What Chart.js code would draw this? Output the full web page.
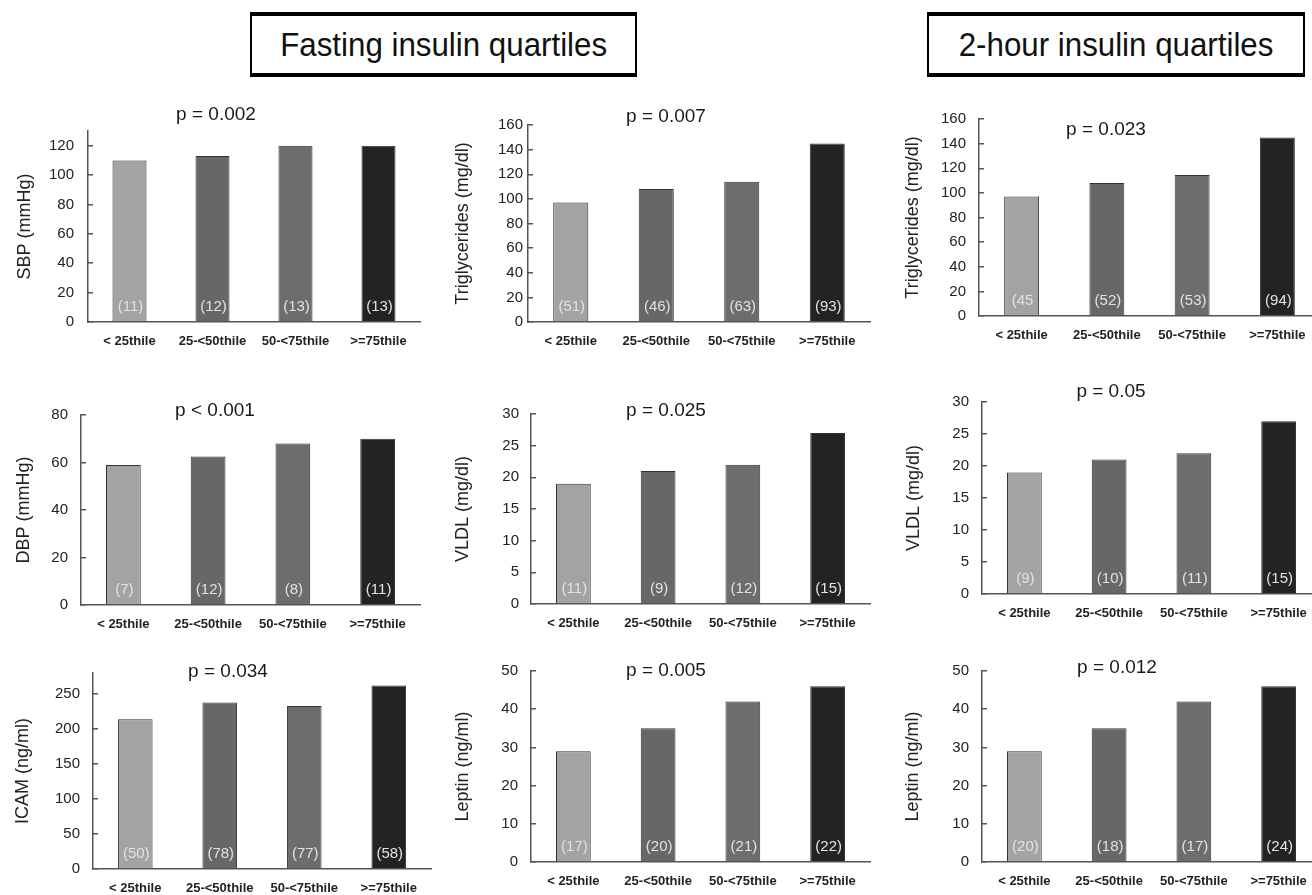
<!DOCTYPE html>
<html>
<head>
<meta charset="utf-8">
<script src="https://cdn.jsdelivr.net/npm/chart.js@4/dist/chart.umd.min.js"></script>
<style>
    html, body { margin: 0; padding: 0; background: #fff; }
    body { width: 1312px; height: 895px; position: relative; overflow: hidden; font-family: "Liberation Sans", Arial, sans-serif; }
    .header {
        position: absolute; top: 12px; height: 57px; box-sizing: content-box;
        border-top: 4px solid #000; border-bottom: 4px solid #000;
        border-left: 2px solid #000; border-right: 2px solid #000;
        text-align: center; line-height: 57px; font-size: 34px; color: #111;
    }
    .header span { display: inline-block; transform: scaleX(0.92); }
    .panel { position: absolute; }
</style>
</head>
<body>
<div class="header" style="left:250px; width:383px;"><span>Fasting insulin quartiles</span></div>
<div class="header" style="left:927px; width:374px;"><span>2-hour insulin quartiles</span></div>

<script>
// ---- Data ----
const categories = ['< 25thile', '25-<50thile', '50-<75thile', '>=75thile'];

const sbpValues = [110, 113, 120, 120];
const sbpCounts = ['(11)', '(12)', '(13)', '(13)'];

const tgFastValues = [97, 108, 114, 145];
const tgFastCounts = ['(51)', '(46)', '(63)', '(93)'];

const tg2hValues = [97, 108, 114.5, 145];
const tg2hCounts = ['(45', '(52)', '(53)', '(94)'];

const dbpValues = [59, 62.5, 68, 70];
const dbpCounts = ['(7)', '(12)', '(8)', '(11)'];

const vldlFastValues = [19, 21, 22, 27];
const vldlFastCounts = ['(11)', '(9)', '(12)', '(15)'];

const vldl2hValues = [19, 21, 22, 27];
const vldl2hCounts = ['(9)', '(10)', '(11)', '(15)'];

const icamValues = [214, 238, 233, 262];
const icamCounts = ['(50)', '(78)', '(77)', '(58)'];

const leptinFastValues = [29, 35, 42, 46];
const leptinFastCounts = ['(17)', '(20)', '(21)', '(22)'];

const leptin2hValues = [29, 35, 42, 46];
const leptin2hCounts = ['(20)', '(18)', '(17)', '(24)'];

const barColors = ['#a3a3a3', '#676767', '#6d6d6d', '#232323'];

// ---- Panels (layout in page pixels) ----
const panels = [
    { label: 'SBP (mmHg)', values: sbpValues, counts: sbpCounts, p: 'p = 0.002', yMax: 130, step: 20,
      axisX: 88, right: 420, top: 131, base: 321.5, pX: 216, pY: 115, titleGap: 63, tickGap: 14 },
    { label: 'Triglycerides (mg/dl)', values: tgFastValues, counts: tgFastCounts, p: 'p = 0.007', yMax: 160, step: 20,
      axisX: 528, right: 870, top: 125, base: 321.6, pX: 666, pY: 117, titleGap: 65, tickGap: 5 },
    { label: 'Triglycerides (mg/dl)', values: tg2hValues, counts: tg2hCounts, p: 'p = 0.023', yMax: 160, step: 20,
      axisX: 979, right: 1320, top: 119.3, base: 316.3, pX: 1106, pY: 130, titleGap: 66, tickGap: 13 },
    { label: 'DBP (mmHg)', values: dbpValues, counts: dbpCounts, p: 'p < 0.001', yMax: 80, step: 20,
      axisX: 81, right: 420, top: 415, base: 604.7, pX: 215, pY: 411, titleGap: 57, tickGap: 13 },
    { label: 'VLDL (mg/dl)', values: vldlFastValues, counts: vldlFastCounts, p: 'p = 0.025', yMax: 30, step: 5,
      axisX: 531, right: 870, top: 414.3, base: 604.4, pX: 666, pY: 411, titleGap: 68, tickGap: 12 },
    { label: 'VLDL (mg/dl)', values: vldl2hValues, counts: vldl2hCounts, p: 'p = 0.05', yMax: 30, step: 5,
      axisX: 982, right: 1321, top: 401.7, base: 593.3, pX: 1111, pY: 391, titleGap: 68, tickGap: 13 },
    { label: 'ICAM (ng/ml)', values: icamValues, counts: icamCounts, p: 'p = 0.034', yMax: 280, step: 50,
      axisX: 93, right: 431, top: 672.7, base: 868.3, pX: 228, pY: 671, titleGap: 70, tickGap: 13 },
    { label: 'Leptin (ng/ml)', values: leptinFastValues, counts: leptinFastCounts, p: 'p = 0.005', yMax: 50, step: 10,
      axisX: 531, right: 870, top: 671, base: 861.7, pX: 666, pY: 671, titleGap: 68, tickGap: 13 },
    { label: 'Leptin (ng/ml)', values: leptin2hValues, counts: leptin2hCounts, p: 'p = 0.012', yMax: 50, step: 10,
      axisX: 982, right: 1321, top: 671, base: 861.7, pX: 1117, pY: 668, titleGap: 69, tickGap: 13 }
];

const Y_W = 95;      // reserved width for y axis (labels + title)
const X_H = 35;      // reserved height for x axis labels
const PAD_T = 50;    // room above the plot for the p-value
const PAD_R = 4;

// count labels inside bars + p-value text
const panelText = {
    id: 'panelText',
    afterDatasetsDraw(chart, args, opts) {
        const ctx = chart.ctx;
        const y0 = chart.scales.y.getPixelForValue(0);
        const meta = chart.getDatasetMeta(0);
        ctx.save();
        ctx.font = '15px "Liberation Sans", Arial, sans-serif';
        ctx.fillStyle = '#e2e2e2';
        ctx.textAlign = 'center';
        ctx.textBaseline = 'middle';
        meta.data.forEach((bar, i) => {
            ctx.fillText(opts.counts[i], bar.x + 1, y0 - 15);
        });
        ctx.font = '19px "Liberation Sans", Arial, sans-serif';
        ctx.fillStyle = '#1a1a1a';
        ctx.fillText(opts.p, opts.pX, opts.pY);
        ctx.restore();
    }
};

function makePanel(cfg) {
    const left = cfg.axisX - Y_W;
    const top = cfg.top - PAD_T;
    const width = Y_W + (cfg.right - cfg.axisX) + PAD_R;
    const height = PAD_T + (cfg.base - cfg.top) + X_H;

    const div = document.createElement('div');
    div.className = 'panel';
    div.style.left = left + 'px';
    div.style.top = top + 'px';
    const canvas = document.createElement('canvas');
    canvas.width = Math.round(width);
    canvas.height = Math.round(height);
    div.appendChild(canvas);
    document.body.appendChild(div);

    new Chart(canvas, {
        type: 'bar',
        data: {
            labels: categories,
            datasets: [{
                data: cfg.values,
                backgroundColor: barColors,
                borderColor: '#333',
                borderWidth: 1,
                barPercentage: 0.41,
                categoryPercentage: 1
            }]
        },
        options: {
            responsive: false,
            animation: false,
            layout: { padding: { left: 0, right: PAD_R, top: PAD_T, bottom: 0 } },
            plugins: {
                legend: { display: false },
                tooltip: { enabled: false },
                panelText: { counts: cfg.counts, p: cfg.p, pX: cfg.pX - left, pY: cfg.pY - top }
            },
            scales: {
                x: {
                    grid: { display: false, drawTicks: false },
                    border: { display: true, color: '#555', width: 1.5 },
                    ticks: {
                        color: '#222',
                        padding: 12,
                        maxRotation: 0,
                        autoSkip: false,
                        font: { family: '"Liberation Sans", Arial, sans-serif', size: 13, weight: 'bold' }
                    },
                    afterFit: (scale) => { scale.height = X_H; }
                },
                y: {
                    min: 0,
                    max: cfg.yMax,
                    grid: { drawOnChartArea: false, tickLength: -5, color: '#555', lineWidth: 1.5 },
                    border: { display: true, color: '#555', width: 1.5 },
                    ticks: {
                        stepSize: cfg.step,
                        includeBounds: false,
                        color: '#222',
                        padding: cfg.tickGap + 5,
                        font: { family: '"Liberation Sans", Arial, sans-serif', size: 15 }
                    },
                    title: {
                        display: true,
                        text: cfg.label,
                        color: '#222',
                        padding: { top: Y_W - cfg.titleGap - 10.8, bottom: 0 },
                        font: { family: '"Liberation Sans", Arial, sans-serif', size: 18 }
                    },
                    afterFit: (scale) => { scale.width = Y_W; }
                }
            }
        },
        plugins: [panelText]
    });
}

panels.forEach(makePanel);
</script>
</body>
</html>
